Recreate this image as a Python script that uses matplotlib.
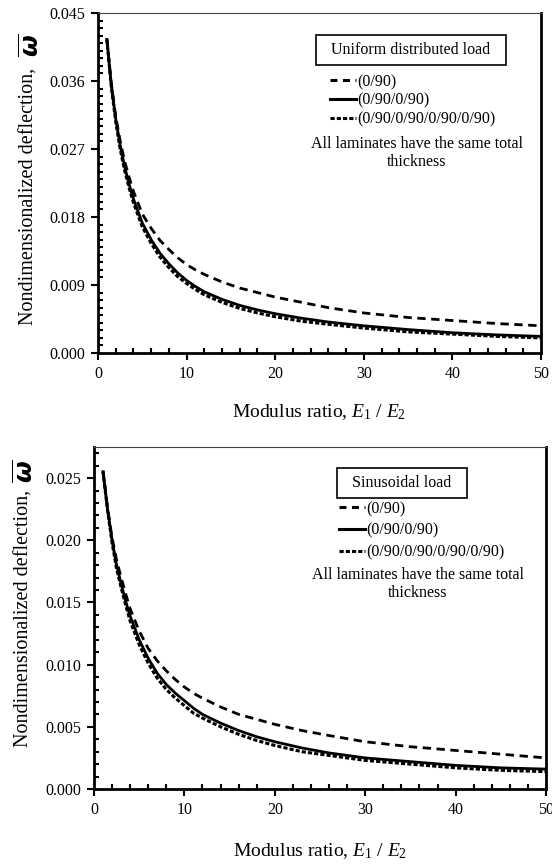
import matplotlib
matplotlib.use('Agg')
import matplotlib.pyplot as plt
from matplotlib.lines import Line2D
from matplotlib.ticker import MultipleLocator, FormatStrFormatter

plt.rcParams['font.family'] = 'Liberation Serif'
plt.rcParams['mathtext.fontset'] = 'custom'
plt.rcParams['mathtext.rm'] = 'Liberation Serif'
plt.rcParams['mathtext.it'] = 'Liberation Serif:italic'
plt.rcParams['mathtext.bf'] = 'Liberation Serif:bold:italic'
plt.rcParams['lines.scale_dashes'] = False

# modulus ratio E1/E2
ratio = [1, 1.5, 2, 2.5, 3, 3.5, 4, 5, 6, 7, 8, 9, 10, 11, 12, 14, 16, 18, 20, 23, 26, 30, 35, 40, 45, 50]

# uniform distributed load
udl_2 = [0.0416, 0.0357, 0.0313, 0.0281, 0.0254, 0.0233, 0.0214, 0.0184, 0.0165, 0.0149, 0.0137, 0.0126, 0.0117,
         0.0110, 0.0104, 0.0094, 0.0086, 0.0080, 0.0074, 0.0067, 0.0060, 0.0053, 0.0047, 0.0043, 0.0039, 0.0036]
udl_4 = [0.0415, 0.0355, 0.0310, 0.0275, 0.0247, 0.0224, 0.0204, 0.0172, 0.0150, 0.0132, 0.0118, 0.0106, 0.0096,
         0.0088, 0.0081, 0.0071, 0.0063, 0.0057, 0.0052, 0.0046, 0.0041, 0.0036, 0.0031, 0.00268, 0.0024, 0.0022]
udl_8 = [0.0415, 0.0353, 0.0306, 0.0270, 0.0242, 0.0219, 0.0199, 0.0167, 0.0145, 0.0127, 0.0113, 0.0101, 0.0092,
         0.0084, 0.0077, 0.0067, 0.0059, 0.0053, 0.0048, 0.0042, 0.0038, 0.0033, 0.0028, 0.0025, 0.0022, 0.0020]

# sinusoidal load
sin_2 = [0.0256, 0.0226, 0.0202, 0.0184, 0.0170, 0.0157, 0.0145, 0.0127, 0.0113, 0.0103, 0.0095, 0.0088, 0.0082,
         0.0077, 0.0073, 0.0066, 0.0060, 0.0056, 0.0052, 0.0047, 0.0043, 0.0038, 0.0034, 0.0031, 0.0028, 0.0025]
sin_4 = [0.0255, 0.0225, 0.0200, 0.0180, 0.0165, 0.0151, 0.0139, 0.0120, 0.0105, 0.0093, 0.0084, 0.0077, 0.0071,
         0.0065, 0.0060, 0.0053, 0.0047, 0.0042, 0.0038, 0.0033, 0.0029, 0.0025, 0.0022, 0.0019, 0.0017, 0.0016]
sin_8 = [0.0255, 0.0224, 0.0198, 0.0177, 0.0162, 0.0148, 0.0135, 0.0116, 0.0101, 0.0089, 0.0080, 0.0073, 0.0067,
         0.0061, 0.0057, 0.0050, 0.0044, 0.0039, 0.0035, 0.0030, 0.0027, 0.0023, 0.0020, 0.0017, 0.0015, 0.0014]

labels = ['(0/90)', '(0/90/0/90)', '(0/90/0/90/0/90/0/90)']

W, H = 552, 865
fig = plt.figure(figsize=(W / 100, H / 100), dpi=100)


def fx(px):
    return px / W


def fy(py):
    return 1 - py / H


def setup(ax, ymax, ymaj, ylab_y, om_y, xpad):
    ax.set_xlim(0, 50)
    ax.set_ylim(0, ymax)
    ax.xaxis.set_major_locator(MultipleLocator(10))
    ax.xaxis.set_minor_locator(MultipleLocator(2))
    ax.yaxis.set_major_locator(MultipleLocator(ymaj))
    ax.yaxis.set_minor_locator(MultipleLocator(0.001))
    ax.yaxis.set_major_formatter(FormatStrFormatter('%.3f'))
    ax.tick_params(which='major', direction='out', length=5, width=1.5, labelsize=11.5, pad=4)
    ax.tick_params(which='minor', direction='in', length=3.5, width=1.5)
    for s in ['left', 'bottom', 'right']:
        ax.spines[s].set_linewidth(2)
    ax.spines['top'].set_linewidth(0.8)
    ax.spines['top'].set_color('#444444')
    ax.text(-0.155, ylab_y, 'Nondimensionalized deflection,', fontsize=14.5, rotation=90,
            ha='center', va='center', transform=ax.transAxes)
    ax.text(-0.152, om_y, r'$\overline{\boldsymbol{\omega}}$', fontsize=18, rotation=90,
            ha='center', va='center', transform=ax.transAxes)
    ax.set_xlabel(r'Modulus ratio, $E_1$ / $E_2$', fontsize=14, labelpad=xpad)


def draw(ax, y2, y4, y8):
    ax.plot(ratio, y2, color='black', lw=2.0, dashes=(6, 4))
    ax.plot(ratio, y4, color='black', lw=2.0)
    ax.plot(ratio, y8, color='black', lw=2.2, dashes=(3, 1.5))


def legend(ax, title, bx, by, lx, ly, sp, nx, ny):
    fig.text(fx(bx), fy(by), '  ' + title + '  ', fontsize=11.5, ha='center', va='center',
             bbox=dict(boxstyle='square,pad=0.45', fc='white', ec='black', lw=1.2))
    handles = [Line2D([], [], color='black', lw=2.2, dashes=(5, 4)),
               Line2D([], [], color='black', lw=2.2),
               Line2D([], [], color='black', lw=2.2, dashes=(3, 1.5))]
    ax.legend(handles, labels, loc='upper left', bbox_to_anchor=(fx(lx), fy(ly)),
              bbox_transform=fig.transFigure, frameon=False, fontsize=11.5,
              handlelength=1.65, handletextpad=0.05, labelspacing=sp, borderpad=0,
              borderaxespad=0)
    fig.text(fx(nx), fy(ny), 'All laminates have the same total\nthickness', fontsize=11.5,
             ha='center', va='top', linespacing=1.2)


ax1 = fig.add_axes([fx(98), fy(353), fx(541) - fx(98), fy(13) - fy(353)])
setup(ax1, 0.045, 0.009, 0.46, 0.905, 15)
draw(ax1, udl_2, udl_4, udl_8)
legend(ax1, 'Uniform distributed load', 411, 50, 330, 74, 0.18, 417, 136)

ax2 = fig.add_axes([fx(94), fy(789), fx(546) - fx(94), fy(447) - fy(789)])
setup(ax2, 0.0275, 0.005, 0.5, 0.93, 17)
draw(ax2, sin_2, sin_4, sin_8)
legend(ax2, 'Sinusoidal load', 402, 483, 339, 501, 0.35, 418, 567)

fig.savefig('out.png', dpi=100)
